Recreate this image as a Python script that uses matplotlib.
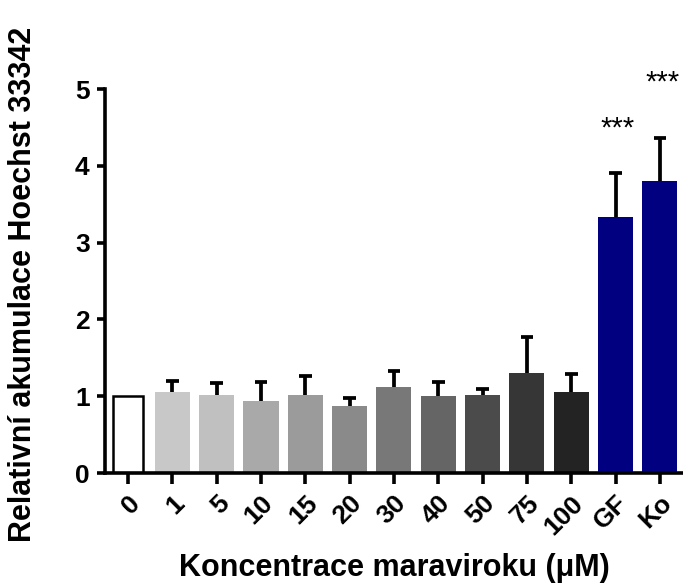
import matplotlib
matplotlib.use("Agg")
import matplotlib.pyplot as plt
import numpy as np

plt.rcParams['font.family'] = ['Liberation Sans', 'DejaVu Sans']

# data
labels = ['0', '1', '5', '10', '15', '20', '30', '40', '50', '75', '100', 'GF', 'Ko']
means = [1.00, 1.06, 1.02, 0.94, 1.01, 0.87, 1.12, 1.00, 1.01, 1.30, 1.05, 3.34, 3.80]
errs = [0.00, 0.14, 0.15, 0.24, 0.25, 0.11, 0.21, 0.19, 0.09, 0.47, 0.24, 0.56, 0.56]
colors = ['white', '#c8c8c8', '#c0c0c0', '#a9a9a9', '#9b9b9b', '#8a8a8a', '#787878',
          '#656565', '#4b4b4b', '#363636', '#232323', '#000080', '#000080']
star_labels = ['GF', 'Ko']
star_heights = [4.49, 5.09]

fig = plt.figure(figsize=(6.83, 5.86), dpi=100)
ax = fig.add_axes([0.1537, 0.1928, 0.8463, 0.6553])

x = np.arange(len(labels))
lw = 2.7
cap = 0.14
for i in x:
    if colors[i] == 'white':
        ax.bar(i, means[i], width=0.67, color='white', edgecolor='black', linewidth=1.8, zorder=2)
    else:
        ax.bar(i, means[i], width=0.79, color=colors[i], zorder=2)
    if errs[i] > 0:
        top = means[i] + errs[i]
        # only the upper half of the error bar is shown
        ax.plot([i, i], [means[i], top], color='black', lw=lw, zorder=3, solid_capstyle='butt')
        ax.plot([i - cap, i + cap], [top, top], color='black', lw=lw, zorder=3, solid_capstyle='butt')

for lab, h in zip(star_labels, star_heights):
    i = labels.index(lab)
    ax.text(i + 0.05, h, '***', ha='center', va='center', fontsize=21, clip_on=False)

ax.set_xlim(-0.52, 12.52)
ax.set_ylim(0, 5)
ax.set_yticks([0, 1, 2, 3, 4, 5])
ax.set_xticks(x)
ax.set_xticklabels(labels, rotation=45, ha='right', va='top', rotation_mode='anchor',
                   fontsize=19, fontweight='bold')
for t in ax.get_yticklabels():
    t.set_fontsize(19)
    t.set_fontweight('bold')

for side in ['top', 'right']:
    ax.spines[side].set_visible(False)
for side in ['left', 'bottom']:
    ax.spines[side].set_linewidth(2.6)
ax.tick_params(axis='x', length=8, width=2.6, pad=5)
ax.tick_params(axis='y', length=6, width=2.6, pad=5)

ax.set_ylabel('Relativní akumulace Hoechst 33342', fontsize=22, fontweight='bold')
ax.yaxis.set_label_coords(-0.116, 0.49)
ax.set_xlabel('Koncentrace maraviroku (μM)', fontsize=22, fontweight='bold')
ax.xaxis.set_label_coords(0.5, -0.208)

fig.savefig('out.png', dpi=100)
